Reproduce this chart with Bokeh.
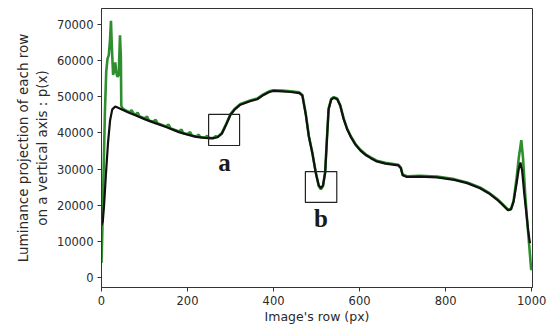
from bokeh.plotting import figure
from bokeh.models import Range1d, FixedTicker, Label, BoxAnnotation
from bokeh.embed import file_html
from bokeh.resources import INLINE

# Black (smoothed) projection
black_x = [0, 3, 6, 10, 15, 20, 25, 32, 40, 60, 80, 100, 120, 150, 180, 200, 220, 240, 260, 270,
           280, 290, 300, 310, 323, 347, 362, 377, 390, 400, 420, 440, 460, 467, 475, 482, 490,
           498, 505, 510, 515, 520, 524, 528, 534, 540, 548, 555, 563, 571, 580, 590, 602, 615,
           626, 640, 660, 690, 696, 700, 710, 740, 780, 820, 850, 880, 900, 920, 935, 945, 952,
           958, 965, 970, 974, 978, 983, 988, 992, 996]
black_y = [14500, 15500, 20000, 28000, 37000, 43500, 46500, 47300, 46900, 45800, 44800, 43800,
           42900, 41600, 40200, 39500, 38900, 38600, 38500, 38800, 39800, 42300, 45000, 46500,
           47800, 48800, 49300, 50500, 51300, 51600, 51500, 51300, 51000, 50300, 45000, 39000,
           34500, 29000, 25500, 24700, 25500, 29000, 38000, 46500, 49200, 49700, 49300, 47500,
           43800, 41000, 38800, 36800, 35100, 33800, 33000, 32100, 31500, 31000, 30200, 28300,
           27800, 27900, 27700, 27000, 26100, 24700, 23300, 21500, 19800, 18600, 18800, 21000,
           26000, 30000, 31800, 29500, 23000, 17500, 13000, 9500]

# Green (raw) projection
green_start_x = [0, 2, 5, 8, 11, 14, 17, 20, 22, 24, 27, 30, 32, 34, 37, 40, 43, 45, 46, 50, 60,
                 66, 70, 74, 80, 84, 88, 100, 106, 110, 120, 126, 130, 150, 156, 160, 180, 186,
                 190, 200, 206, 210, 220, 226, 230, 240, 246, 250, 260, 266, 270, 280, 290]
green_start_y = [4000, 13000, 30000, 46000, 57000, 60500, 61500, 66000, 71000, 64000, 56000,
                 57500, 59500, 57000, 55500, 56000, 67000, 61000, 47500, 46600, 46000, 45700,
                 46300, 45400, 45100, 45600, 44600, 44000, 44500, 43400, 43100, 43600, 42700,
                 41800, 42300, 41300, 40400, 40900, 39900, 39700, 40200, 39300, 39000, 39500,
                 38800, 38700, 39200, 38600, 38600, 39100, 38900, 40000, 42500]
green_mid_x = [300, 310, 323, 347, 362, 377, 390, 400, 420, 440, 460, 467, 475, 482, 490, 498,
               505, 510, 515, 520, 524, 528, 534, 540, 548, 555, 563, 571, 580, 590, 602, 615,
               626, 640, 660, 690, 696, 700, 710, 740, 780, 820, 850, 880, 900, 920, 935, 945,
               952, 958]
green_mid_y = [45200, 46700, 48000, 49000, 49500, 50700, 51500, 51800, 51700, 51500, 51200,
               50500, 45200, 39200, 34600, 29200, 25300, 24400, 25300, 29200, 38200, 46700,
               49400, 49900, 49500, 47700, 44000, 41200, 39000, 37000, 35300, 34000, 33200,
               32300, 31700, 31200, 30400, 28500, 28000, 28100, 27900, 27200, 26300, 24900,
               23500, 21700, 20000, 18800, 19000, 21200]
green_end_x = [965, 970, 976, 980, 985, 990, 995, 999]
green_end_y = [27500, 33000, 38000, 33000, 23000, 15000, 8000, 2000]

green_x = green_start_x + green_mid_x + green_end_x
green_y = green_start_y + green_mid_y + green_end_y

x_ticks = [0, 200, 400, 600, 800, 1000]
y_ticks = [0, 10000, 20000, 30000, 40000, 50000, 60000, 70000]

# annotation boxes (data units) and letters
box_a = dict(left=249, right=321, bottom=36500, top=45100)
box_b = dict(left=474, right=547, bottom=20750, top=29300)
label_a = (286, 31800)
label_b = (510, 16300)

p = figure(width=547, height=336, output_backend="svg", toolbar_location=None,
           x_range=Range1d(0, 1002), y_range=Range1d(-2770, 74400),
           min_border_left=101, min_border_right=15, min_border_top=8, min_border_bottom=49)

p.line(green_x, green_y, line_color="#2f8f2f", line_width=2.6)
p.line(black_x, black_y, line_color="#111111", line_width=2.2)

for b in (box_a, box_b):
    p.add_layout(BoxAnnotation(fill_color=None, fill_alpha=0, line_color="#222222",
                               line_alpha=1.0, line_width=1.2, **b))

for txt, (lx, ly) in (("a", label_a), ("b", label_b)):
    p.add_layout(Label(x=lx, y=ly, text=txt, text_font="Liberation Serif",
                       text_font_style="bold", text_font_size="25px", text_align="center",
                       text_baseline="middle", text_color="#1a1a1a"))

p.xgrid.visible = False
p.ygrid.visible = False
p.outline_line_color = "#333333"
p.outline_line_width = 1
p.background_fill_color = "white"
p.border_fill_color = "white"

p.xaxis.ticker = FixedTicker(ticks=x_ticks)
p.yaxis.ticker = FixedTicker(ticks=y_ticks)
for ax in (p.xaxis[0], p.yaxis[0]):
    ax.minor_tick_line_color = None
    ax.major_tick_in = 0
    ax.major_tick_out = 4
    ax.major_tick_line_color = "#333333"
    ax.axis_line_color = "#333333"
    ax.major_label_text_font = "DejaVu Sans"
    ax.major_label_text_font_size = "11.5px"
    ax.major_label_text_color = "#2a2a2a"
    ax.axis_label_text_font = "DejaVu Sans"
    ax.axis_label_text_font_style = "normal"
    ax.axis_label_text_color = "#2a2a2a"

p.xaxis.axis_label_text_font_size = "12.5px"
p.yaxis.axis_label_text_font_size = "13.5px"
p.xaxis.axis_label = "Image's row (px)"
p.yaxis.axis_label = "Luminance projection of each row\non a vertical axis : p(x)"
p.yaxis.formatter.use_scientific = False
p.xaxis.major_label_standoff = 4
p.yaxis.major_label_standoff = 4
p.xaxis.axis_label_standoff = 1
p.yaxis.axis_label_standoff = 4

open("out.html", "w").write(file_html(p, INLINE))
